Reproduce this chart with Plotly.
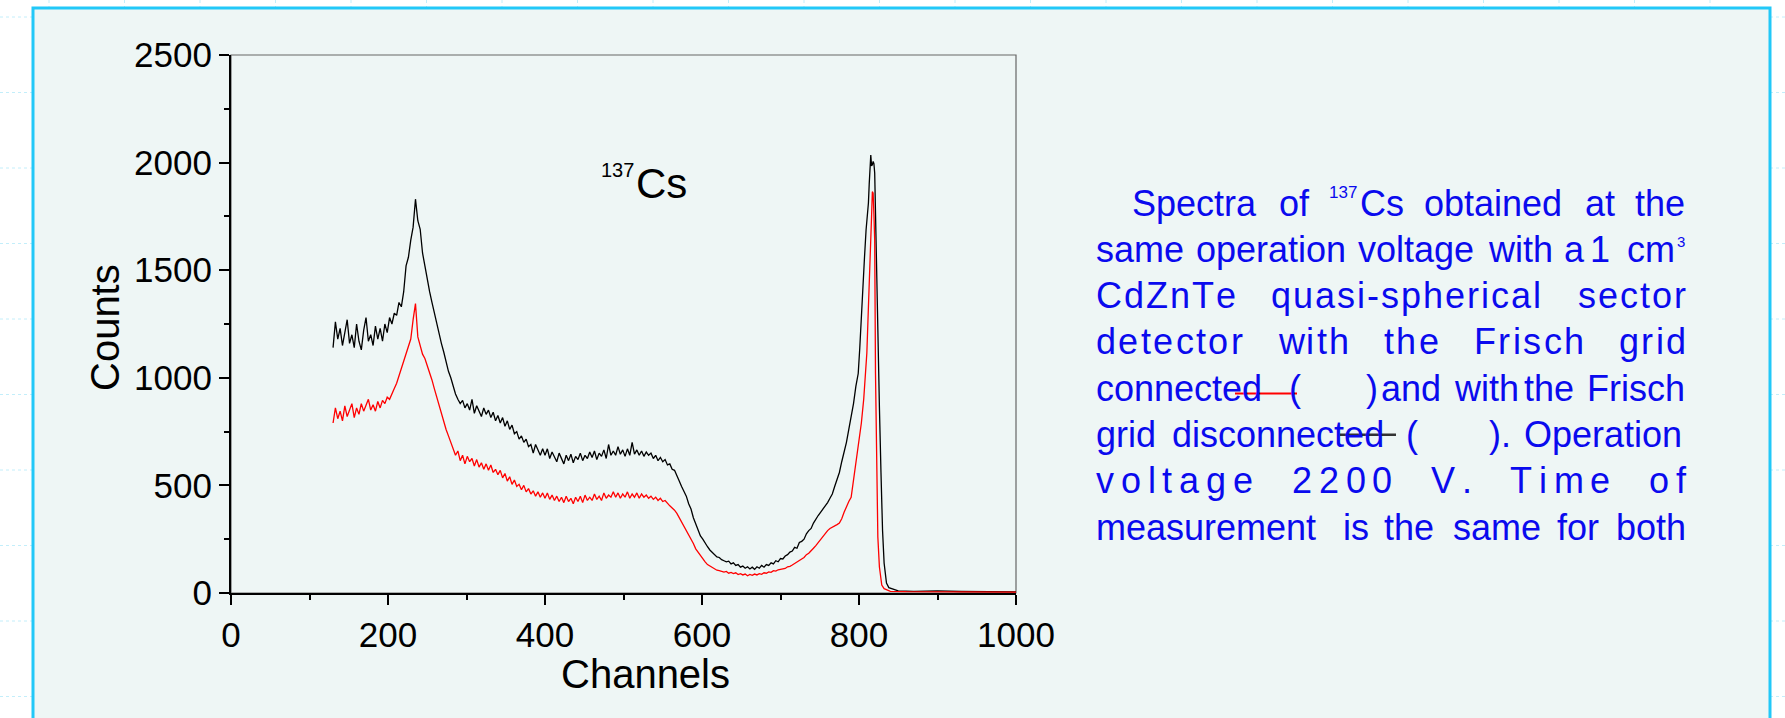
import plotly.graph_objects as go

# ---------------- data ----------------
CH_GRID = list(range(130, 797, 3))  # channels 130 ... 796

BLACK_COUNTS = [
    1140, 1260, 1180, 1230, 1150, 1210, 1270, 1160, 1200, 1140,
    1250, 1170, 1130, 1220, 1280, 1170, 1200, 1150, 1240, 1180,
    1230, 1170, 1250, 1210, 1280, 1250, 1300, 1290, 1350, 1330,
    1400, 1520, 1560, 1640, 1700, 1830, 1730, 1690, 1580, 1520,
    1450, 1400, 1350, 1300, 1260, 1210, 1160, 1120, 1070, 1030,
    1000, 960, 925, 900, 880, 895, 860, 880, 850, 900,
    835, 870, 845, 820, 860, 830, 850, 815, 840, 800,
    825, 790, 815, 775, 800, 760, 780, 740, 750, 715,
    730, 700, 715, 680, 690, 650, 690, 660, 640, 670,
    640, 670, 625, 655, 630, 610, 650, 620, 600, 640,
    615, 645, 605, 635, 620, 650, 615, 640, 625, 655,
    630, 660, 620, 650, 635, 665, 625, 690, 640, 660,
    640, 680, 645, 665, 635, 670, 640, 700, 645, 665,
    640, 660, 635, 655, 640, 650, 625, 640, 615, 630,
    610, 620, 595, 600, 575, 570, 540, 520, 495, 470,
    450, 415, 390, 350, 320, 290, 265, 250, 230, 215,
    200, 190, 180, 168, 165, 155, 150, 145, 148, 135,
    140, 128, 132, 120, 125, 115, 122, 112, 120, 110,
    122, 115, 128, 120, 132, 128, 140, 135, 150, 145,
    160, 158, 172, 178, 190, 195, 212, 208, 235, 240,
    250, 275, 290, 300, 325, 345, 360, 375, 390, 400,
    420, 440, 460, 495, 530, 560, 610, 650, 700, 760,
    820, 880, 960,
]
BLACK_PEAK_CH = [799, 801, 803, 805, 807, 809, 811, 812, 813, 814,
                 815, 816, 817, 818, 819, 820, 821, 822, 824, 826,
                 828, 829, 830, 832, 835, 838, 842, 850, 870, 900,
                 930, 960, 1000]
BLACK_PEAK = [1020, 1140, 1300, 1394, 1560, 1687, 1760, 1812, 1900, 1980,
              2035, 1985, 1990, 2005, 1995, 1952, 1750, 1490, 1150, 864,
              560, 400, 290, 139, 46, 25, 19, 10, 8, 10,
              7, 6, 5]

RED_COUNTS = [
    790, 860, 810, 845, 800, 870, 820, 850, 880, 815,
    860, 830, 880, 845, 870, 900, 850, 875, 845, 890,
    860, 895, 880, 910, 900, 930, 950, 975, 1010, 1040,
    1070, 1110, 1140, 1180, 1270, 1345, 1190, 1150, 1110, 1090,
    1060, 1020, 990, 950, 910, 870, 830, 795, 760, 730,
    700, 665, 640, 660, 615, 640, 600, 635, 610, 625,
    590, 620, 585, 605, 575, 600, 570, 595, 560, 575,
    550, 570, 535, 555, 520, 540, 505, 525, 495, 505,
    480, 500, 470, 485, 460, 475, 450, 470, 445, 465,
    440, 465, 435, 455, 430, 450, 425, 445, 420, 450,
    425, 440, 415, 445, 425, 450, 420, 455, 430, 445,
    430, 460, 435, 450, 430, 465, 440, 455, 445, 470,
    445, 465, 440, 460, 445, 470, 440, 460, 445, 465,
    440, 460, 445, 455, 440, 450, 435, 445, 430, 440,
    425, 430, 415, 405, 395, 385, 370, 350, 335, 310,
    295, 275, 255, 230, 205, 190, 170, 155, 145, 132,
    125, 116, 112, 106, 104, 100, 97, 100, 92, 96,
    90, 94, 86, 90, 84, 88, 80, 86, 82, 88,
    84, 90, 87, 94, 92, 98, 96, 104, 102, 108,
    110, 115, 114, 122, 124, 130, 136, 142, 150, 158,
    165, 178, 185, 195, 208, 220, 235, 245, 260, 275,
    290, 300, 305, 312, 318, 325, 345, 375, 405, 425,
    445, 520, 600,
]
RED_PEAK_CH = [797, 800, 803, 806, 808, 810, 812, 814, 815, 816,
               817, 818, 819, 820, 821, 822, 823, 824, 826, 829,
               832, 835, 840, 860, 900, 950, 1000]
RED_PEAK = [618, 700, 790, 900, 1022, 1115, 1329, 1500, 1640, 1750,
            1865, 1858, 1760, 1640, 1022, 700, 400, 260, 121, 37,
            20, 14, 8, 6, 5, 4, 4]

X_TICKS = [0, 200, 400, 600, 800, 1000]
Y_TICKS = [0, 500, 1000, 1500, 2000, 2500]

X_TITLE = "Channels"
Y_TITLE = "Counts"
ISOTOPE_MASS = "137"
ISOTOPE = "Cs"

TEXT_LINES = [
    ["Spectra", "of", "Cs", "obtained", "at", "the"],
    ["same", "operation", "voltage", "with", "a", "1", "cm"],
    ["CdZnTe", "quasi-spherical", "sector"],
    ["detector", "with", "the", "Frisch", "grid"],
    ["connected", "(", ")", "and", "with", "the", "Frisch"],
    ["grid", "disconnected", "(", ").", "Operation"],
    ["voltage", "2200", "V.", "Time", "of"],
    ["measurement", "is", "the", "same", "for", "both"],
]
SUP_137 = "137"
SUP_3 = "3"

# ---------------- layout constants (pixels) ----------------
FIG_W, FIG_H = 1785, 718
PLOT_L, PLOT_R, PLOT_T, PLOT_B = 231, 1016, 55, 593
PW = PLOT_R - PLOT_L
PH = PLOT_B - PLOT_T
FONT = "Arial, Liberation Sans, sans-serif"
TEXT_BLUE = "#0a0aee"
FRAME_FILL = "rgb(238,246,245)"
FRAME_LINE = "#22c8f8"

WORD_X = [
    [1131, 1278, 1359, 1423, 1584, 1634],
    [1095, 1195, 1357, 1487, 1563, 1589, 1626],
    [1095, 1270, 1577],
    [1095, 1277, 1383, 1473, 1618],
    [1095, 1288, 1365, 1380, 1453, 1523, 1586],
    [1095, 1171, 1405, 1488, 1523],
    [1095, 1291, 1430, 1509, 1648],
    [1095, 1342, 1383, 1452, 1556, 1615],
]
LINE_LS = [0, 0, 2, 2.4, 0, 0, 6.8, 0]
BASE0, LINE_GAP, TXT_SIZE = 215.5, 46.3, 36

# Arial / Liberation Sans advance widths (per 1000 em)
ADV = {' ': 278, 'a': 556, 'b': 556, 'c': 500, 'd': 556, 'e': 556, 'f': 278,
       'g': 556, 'h': 556, 'i': 222, 'j': 222, 'k': 500, 'l': 222, 'm': 833,
       'n': 556, 'o': 556, 'p': 556, 'q': 556, 'r': 333, 's': 500, 't': 278,
       'u': 556, 'v': 500, 'w': 722, 'x': 500, 'y': 500, 'z': 500,
       'C': 722, 'S': 667, 'Z': 611, 'T': 611, 'F': 611, 'V': 667, 'O': 778,
       '(': 333, ')': 333, '.': 278, '-': 333}
for d in "0123456789":
    ADV[d] = 556


def fx(px):
    return (px - PLOT_L) / PW


def fy(py):
    return (PLOT_B - py) / PH


fig = go.Figure()
fig.add_trace(go.Scatter(x=CH_GRID + BLACK_PEAK_CH, y=BLACK_COUNTS + BLACK_PEAK,
                         mode="lines", line=dict(color="black", width=1.3),
                         showlegend=False, hoverinfo="skip"))
fig.add_trace(go.Scatter(x=CH_GRID + RED_PEAK_CH, y=RED_COUNTS + RED_PEAK,
                         mode="lines", line=dict(color="#ff0000", width=1.3),
                         showlegend=False, hoverinfo="skip"))

shapes = []
# faint page grid (dotted) outside the frame
k = 0
while 17 + 75.5 * k < FIG_H:
    yy = 17 + 75.5 * k
    shapes.append(dict(type="line", xref="paper", yref="paper", layer="below",
                       x0=fx(0), x1=fx(FIG_W), y0=fy(yy), y1=fy(yy),
                       line=dict(color="rgb(195,238,250)", width=1, dash="dot")))
    k += 1
k = 0
while 49 + 75.5 * k < FIG_W:
    xx = 49 + 75.5 * k
    shapes.append(dict(type="line", xref="paper", yref="paper", layer="below",
                       x0=fx(xx), x1=fx(xx), y0=fy(0), y1=fy(FIG_H),
                       line=dict(color="rgb(195,238,250)", width=1, dash="dot")))
    k += 1
# frame panel
shapes.append(dict(type="rect", xref="paper", yref="paper", layer="below",
                   x0=fx(33), x1=fx(1770), y0=fy(780), y1=fy(8),
                   fillcolor=FRAME_FILL, line=dict(color=FRAME_LINE, width=3)))
# thin box border of plot
shapes.append(dict(type="rect", xref="paper", yref="paper", layer="below",
                   x0=0, x1=1, y0=0, y1=1, line=dict(color="#666666", width=1.2)))
# legend line samples inside the caption
shapes.append(dict(type="line", xref="paper", yref="paper", layer="above",
                   x0=fx(1235), x1=fx(1297), y0=fy(393.5), y1=fy(393.5),
                   line=dict(color="#ff0000", width=2)))
shapes.append(dict(type="line", xref="paper", yref="paper", layer="above",
                   x0=fx(1340), x1=fx(1396), y0=fy(434.7), y1=fy(434.7),
                   line=dict(color="#333333", width=2.5)))

annotations = []


def add_text(px, pycenter, text, size, color, xanchor="left", angle=0):
    annotations.append(dict(x=fx(px), y=fy(pycenter), xref="paper", yref="paper",
                            text=text, showarrow=False, xanchor=xanchor, yanchor="middle",
                            textangle=angle, borderpad=0,
                            font=dict(family=FONT, size=size, color=color)))


for i, (words, xs) in enumerate(zip(TEXT_LINES, WORD_X)):
    base = BASE0 + LINE_GAP * i
    yc = base - 0.3465 * TXT_SIZE
    ls = LINE_LS[i]
    for w, x0 in zip(words, xs):
        if ls == 0:
            add_text(x0, yc, w, TXT_SIZE, TEXT_BLUE)
        else:
            cx = x0
            for ch in w:
                add_text(cx, yc, ch, TXT_SIZE, TEXT_BLUE)
                cx += ADV.get(ch, 556) * TXT_SIZE / 1000 + ls

add_text(1328, 192, SUP_137, 17, TEXT_BLUE)
add_text(1676, 241, SUP_3, 15, TEXT_BLUE)

# isotope label in the plot
add_text(600, 170, ISOTOPE_MASS, 20, "black")
add_text(635, 183.5, ISOTOPE, 42, "black")

# axis titles
add_text(645, 674, X_TITLE, 40, "black", xanchor="center")
add_text(105, 328, Y_TITLE, 40, "black", xanchor="center", angle=-90)

fig.update_layout(
    width=FIG_W, height=FIG_H,
    margin=dict(l=PLOT_L, r=FIG_W - PLOT_R, t=PLOT_T, b=FIG_H - PLOT_B, pad=0),
    paper_bgcolor="white", plot_bgcolor="rgba(0,0,0,0)",
    font=dict(family=FONT, color="black"),
    showlegend=False, shapes=shapes, annotations=annotations,
    xaxis=dict(range=[0, 1000], tickvals=X_TICKS, ticktext=[str(v) for v in X_TICKS],
               ticks="outside", ticklen=10, tickwidth=2, tickcolor="black",
               showline=True, linecolor="black", linewidth=2.2,
               showgrid=False, zeroline=False, tickfont=dict(size=35, family=FONT),
               minor=dict(ticks="outside", ticklen=5, tickwidth=1.5, tickcolor="black",
                          tick0=0, dtick=100, showgrid=False)),
    yaxis=dict(range=[0, 2500], tickvals=Y_TICKS, ticktext=[str(v) for v in Y_TICKS],
               ticks="outside", ticklen=10, tickwidth=2, tickcolor="black",
               showline=True, linecolor="black", linewidth=2.2,
               showgrid=False, zeroline=False, tickfont=dict(size=35, family=FONT),
               minor=dict(ticks="outside", ticklen=5, tickwidth=1.5, tickcolor="black",
                          tick0=0, dtick=250, showgrid=False)),
)

fig.write_html("out.html")
